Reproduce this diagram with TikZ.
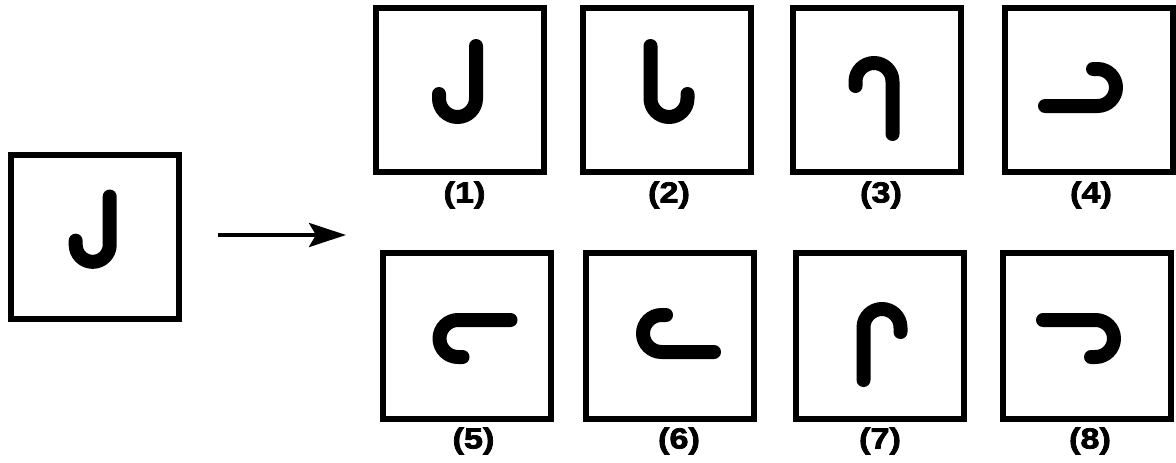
\documentclass[tikz,border=0pt]{standalone}
\usepackage{fontspec}
\newfontfamily\labfont[FakeStretch=1.18, FakeBold=2.5]{Liberation Sans}
\usetikzlibrary{arrows.meta}
\tikzset{
  box/.style={draw, line width=6pt, minimum width=168pt, minimum height=164pt, inner sep=0pt},
  glyphline/.style={line width=14pt, line cap=round, line join=round},
  lab/.style={font=\labfont\bfseries\fontsize{29}{29}\selectfont, inner sep=0pt}
}
\newcommand\jglyphdraw{\draw[glyphline] (16,44) -- (16,-8.5) arc[start angle=0,end angle=-180,radius=18.5pt] -- (-21,-4);}
\begin{document}
\begin{tikzpicture}[x=1pt,y=1pt]
\useasboundingbox (0,0) rectangle (1176,-463);
% source box
\node[box] (src) at (95,-237) {};
% top row
\node[box] (b1) at (460,-90) {};
\node[box] (b2) at (666.5,-90) {};
\node[box] (b3) at (876.5,-90) {};
\node[box] (b4) at (1089,-90) {};
% bottom row
\node[box, minimum height=166pt] (b5) at (466.5,-336) {};
\node[box, minimum height=166pt] (b6) at (670,-336) {};
\node[box, minimum height=166pt] (b7) at (879.5,-336) {};
\node[box, minimum height=166pt] (b8) at (1087,-336) {};
% labels
\node[lab] (l1) at (464.5,-195) {(1)};
\node[lab] (l2) at (669,-195) {(2)};
\node[lab] (l3) at (881,-195) {(3)};
\node[lab] (l4) at (1091,-195) {(4)};
\node[lab] (l5) at (473.5,-441) {(5)};
\node[lab] (l6) at (679,-441) {(6)};
\node[lab] (l7) at (880,-441) {(7)};
\node[lab] (l8) at (1090,-441) {(8)};
% glyphs
\begin{scope}[shift={(src.center)}, scale=0.92] \jglyphdraw \end{scope}
\begin{scope}[shift={(b1.center)}, cm={1,0,0,1,(0,0)}] \jglyphdraw \end{scope}
\begin{scope}[shift={(b2.center)}, cm={-1,0,0,1,(0,0)}] \jglyphdraw \end{scope}
\begin{scope}[shift={(b3.center)}, cm={1,0,0,-1,(0,0)}] \jglyphdraw \end{scope}
\begin{scope}[shift={(b4.center)}, cm={0,-1,-1,0,(0,0)}] \jglyphdraw \end{scope}
\begin{scope}[shift={(b5.center)}, cm={0,1,1,0,(0,0)}] \jglyphdraw \end{scope}
\begin{scope}[shift={(b6.center)}, cm={0,-1,1,0,(0,0)}] \jglyphdraw \end{scope}
\begin{scope}[shift={(b7.center)}, cm={-1,0,0,-1,(0,0)}] \jglyphdraw \end{scope}
\begin{scope}[shift={(b8.center)}, cm={0,1,-1,0,(0,0)}] \jglyphdraw \end{scope}
% arrow
\coordinate (a1) at (218,-235);
\coordinate (a2) at (346,-235);
\draw[line width=4pt, -{Stealth[length=37pt, width=24pt, inset=7pt]}] (a1) -- (a2);
\end{tikzpicture}
\end{document}
